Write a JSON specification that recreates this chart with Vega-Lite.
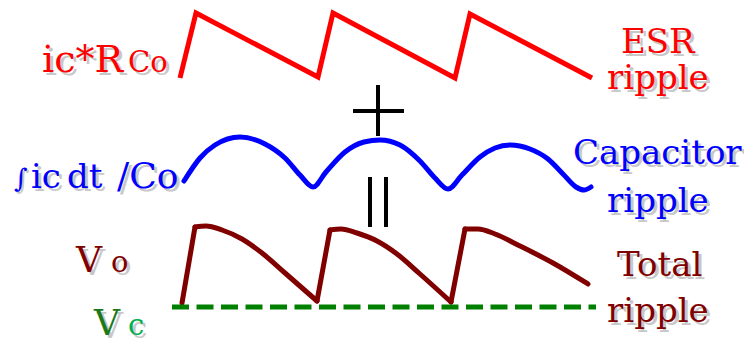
{
  "$schema": "https://vega.github.io/schema/vega-lite/v6.json",
  "width": 744,
  "height": 341,
  "autosize": {"type": "none"},
  "padding": 0,
  "background": "white",
  "config": {"view": {"stroke": null}, "font": "DejaVu Serif"},
  "datasets": {
    "waves": [
      {"series": "esr", "seg": "e", "t": 180, "v": 78}, {"series": "esr", "seg": "e", "t": 196, "v": 13}, {"series": "esr", "seg": "e", "t": 318, "v": 77},
      {"series": "esr", "seg": "e", "t": 333, "v": 13}, {"series": "esr", "seg": "e", "t": 455, "v": 78}, {"series": "esr", "seg": "e", "t": 470, "v": 14},
      {"series": "esr", "seg": "e", "t": 592, "v": 78},

      {"series": "cap", "seg": "c", "t": 184, "v": 181}, {"series": "cap", "seg": "c", "t": 200, "v": 158}, {"series": "cap", "seg": "c", "t": 215, "v": 145},
      {"series": "cap", "seg": "c", "t": 240, "v": 137}, {"series": "cap", "seg": "c", "t": 265, "v": 144}, {"series": "cap", "seg": "c", "t": 285, "v": 158},
      {"series": "cap", "seg": "c", "t": 300, "v": 175}, {"series": "cap", "seg": "c", "t": 313, "v": 187}, {"series": "cap", "seg": "c", "t": 326, "v": 172},
      {"series": "cap", "seg": "c", "t": 345, "v": 152}, {"series": "cap", "seg": "c", "t": 364, "v": 142}, {"series": "cap", "seg": "c", "t": 380, "v": 140},
      {"series": "cap", "seg": "c", "t": 400, "v": 145}, {"series": "cap", "seg": "c", "t": 420, "v": 161}, {"series": "cap", "seg": "c", "t": 435, "v": 178},
      {"series": "cap", "seg": "c", "t": 448, "v": 189}, {"series": "cap", "seg": "c", "t": 462, "v": 175}, {"series": "cap", "seg": "c", "t": 480, "v": 157},
      {"series": "cap", "seg": "c", "t": 495, "v": 148}, {"series": "cap", "seg": "c", "t": 510, "v": 145}, {"series": "cap", "seg": "c", "t": 530, "v": 149},
      {"series": "cap", "seg": "c", "t": 548, "v": 159}, {"series": "cap", "seg": "c", "t": 563, "v": 174}, {"series": "cap", "seg": "c", "t": 576, "v": 187},
      {"series": "cap", "seg": "c", "t": 584, "v": 190}, {"series": "cap", "seg": "c", "t": 591, "v": 187},

      {"series": "total", "seg": "rise1", "t": 182, "v": 303}, {"series": "total", "seg": "rise1", "t": 195, "v": 227},
      {"series": "total", "seg": "fall1", "t": 195, "v": 227}, {"series": "total", "seg": "fall1", "t": 206, "v": 226},
      {"series": "total", "seg": "fall1", "t": 222, "v": 230}, {"series": "total", "seg": "fall1", "t": 242, "v": 239},
      {"series": "total", "seg": "fall1", "t": 262, "v": 253}, {"series": "total", "seg": "fall1", "t": 285, "v": 273},
      {"series": "total", "seg": "fall1", "t": 317, "v": 301},
      {"series": "total", "seg": "rise2", "t": 317, "v": 301}, {"series": "total", "seg": "rise2", "t": 330, "v": 230},
      {"series": "total", "seg": "fall2", "t": 330, "v": 230}, {"series": "total", "seg": "fall2", "t": 341, "v": 229},
      {"series": "total", "seg": "fall2", "t": 357, "v": 233}, {"series": "total", "seg": "fall2", "t": 377, "v": 241},
      {"series": "total", "seg": "fall2", "t": 397, "v": 254}, {"series": "total", "seg": "fall2", "t": 420, "v": 274},
      {"series": "total", "seg": "fall2", "t": 451, "v": 302},
      {"series": "total", "seg": "rise3", "t": 451, "v": 302}, {"series": "total", "seg": "rise3", "t": 465, "v": 229},
      {"series": "total", "seg": "fall3", "t": 465, "v": 229}, {"series": "total", "seg": "fall3", "t": 478, "v": 229},
      {"series": "total", "seg": "fall3", "t": 495, "v": 234}, {"series": "total", "seg": "fall3", "t": 520, "v": 246},
      {"series": "total", "seg": "fall3", "t": 553, "v": 263}, {"series": "total", "seg": "fall3", "t": 588, "v": 284}
    ],
    "reference": [
      {"series": "vc", "t": 172, "v": 307, "t2": 596, "v2": 307}
    ],
    "operators": [
      {"sign": "plus", "t": 378, "v": 85, "t2": 378, "v2": 136},
      {"sign": "plus", "t": 353, "v": 111, "t2": 404, "v2": 111},
      {"sign": "equals", "t": 370, "v": 177, "t2": 370, "v2": 227},
      {"sign": "equals", "t": 386, "v": 177, "t2": 386, "v2": 227}
    ],
    "labels": [
      {"group": "left", "series": "esr", "label": "ic*R", "t": 42, "v": 72},
      {"group": "sub", "series": "esr", "label": "Co", "t": 128, "v": 72},
      {"group": "side", "series": "esr", "label": "ESR", "t": 621, "v": 53},
      {"group": "side", "series": "esr", "label": "ripple", "t": 607, "v": 89},
      {"group": "integral", "series": "cap", "label": "∫", "t": 14, "v": 187},
      {"group": "side", "series": "cap", "label": "ic", "t": 31, "v": 188},
      {"group": "side", "series": "cap", "label": "dt", "t": 67, "v": 188},
      {"group": "cap", "series": "cap", "label": "/Co", "t": 117, "v": 188},
      {"group": "side", "series": "cap", "label": "Capacitor", "t": 573, "v": 164},
      {"group": "side", "series": "cap", "label": "ripple", "t": 607, "v": 212},
      {"group": "cap", "series": "total", "label": "V", "t": 76, "v": 272},
      {"group": "sub", "series": "total", "label": "o", "t": 111, "v": 272},
      {"group": "side", "series": "total", "label": "Total", "t": 617, "v": 276},
      {"group": "side", "series": "total", "label": "ripple", "t": 607, "v": 322},
      {"group": "cap", "series": "vc", "label": "V", "t": 94, "v": 335},
      {"group": "sub", "series": "vcsub", "label": "c", "t": 128, "v": 335}
    ]
  },
  "encoding": {
    "x": {"field": "t", "type": "quantitative", "axis": null, "scale": {"domain": [0, 744], "nice": false, "zero": false}},
    "y": {"field": "v", "type": "quantitative", "axis": null, "scale": {"domain": [0, 341], "nice": false, "zero": false, "reverse": true}}
  },
  "layer": [
    {
      "data": {"name": "waves"},
      "transform": [{"filter": "datum.series === 'esr'"}],
      "mark": {"type": "line", "strokeWidth": 5, "strokeJoin": "miter", "strokeCap": "butt"},
      "encoding": {
        "color": {"field": "series", "type": "nominal", "legend": null,
          "scale": {"domain": ["esr", "cap", "total", "vc", "vcsub"], "range": ["#ff0000", "#0000ff", "#800000", "#1a7a1a", "#00b050"]}}
      }
    },
    {
      "data": {"name": "waves"},
      "transform": [{"filter": "datum.series === 'cap'"}],
      "mark": {"type": "line", "strokeWidth": 5, "interpolate": "monotone", "strokeCap": "round"},
      "encoding": {"color": {"field": "series", "type": "nominal", "legend": null}}
    },
    {
      "data": {"name": "waves"},
      "transform": [{"filter": "datum.series === 'total'"}],
      "mark": {"type": "line", "strokeWidth": 5, "interpolate": "monotone", "strokeCap": "round", "strokeJoin": "round"},
      "encoding": {"detail": {"field": "seg"}, "color": {"field": "series", "type": "nominal", "legend": null}}
    },
    {
      "data": {"name": "reference"},
      "mark": {"type": "rule", "strokeWidth": 5, "strokeDash": [17, 7.5], "color": "#008000"},
      "encoding": {"x2": {"field": "t2"}, "y2": {"field": "v2"}}
    },
    {
      "data": {"name": "operators"},
      "mark": {"type": "rule", "strokeWidth": 4, "color": "#000000"},
      "encoding": {"x2": {"field": "t2"}, "y2": {"field": "v2"}}
    },
    {
      "data": {"name": "labels"},
      "transform": [{"filter": "datum.group === 'side'"}],
      "mark": {"type": "text", "font": "DejaVu Serif", "align": "left", "baseline": "alphabetic", "fontSize": 34, "dx": 3, "dy": 3, "color": "#c8c8c8"},
      "encoding": {"text": {"field": "label"}}
    },
    {
      "data": {"name": "labels"},
      "transform": [{"filter": "datum.group === 'left'"}],
      "mark": {"type": "text", "font": "DejaVu Serif", "align": "left", "baseline": "alphabetic", "fontSize": 38, "dx": 3, "dy": 3, "color": "#c8c8c8"},
      "encoding": {"text": {"field": "label"}}
    },
    {
      "data": {"name": "labels"},
      "transform": [{"filter": "datum.group === 'cap'"}],
      "mark": {"type": "text", "font": "DejaVu Serif", "align": "left", "baseline": "alphabetic", "fontSize": 36, "dx": 3, "dy": 3, "color": "#c8c8c8"},
      "encoding": {"text": {"field": "label"}}
    },
    {
      "data": {"name": "labels"},
      "transform": [{"filter": "datum.group === 'sub'"}],
      "mark": {"type": "text", "font": "DejaVu Serif", "align": "left", "baseline": "alphabetic", "fontSize": 29, "dx": 3, "dy": 3, "color": "#c8c8c8"},
      "encoding": {"text": {"field": "label"}}
    },
    {
      "data": {"name": "labels"},
      "transform": [{"filter": "datum.group === 'integral'"}],
      "mark": {"type": "text", "font": "DejaVu Serif", "align": "left", "baseline": "alphabetic", "fontSize": 26, "dx": 2, "dy": 2, "color": "#c8c8c8"},
      "encoding": {"text": {"field": "label"}}
    },
    {
      "data": {"name": "labels"},
      "transform": [{"filter": "datum.group === 'side'"}],
      "mark": {"type": "text", "font": "DejaVu Serif", "align": "left", "baseline": "alphabetic", "fontSize": 34},
      "encoding": {"text": {"field": "label"}, "color": {"field": "series", "type": "nominal", "legend": null}}
    },
    {
      "data": {"name": "labels"},
      "transform": [{"filter": "datum.group === 'left'"}],
      "mark": {"type": "text", "font": "DejaVu Serif", "align": "left", "baseline": "alphabetic", "fontSize": 38},
      "encoding": {"text": {"field": "label"}, "color": {"field": "series", "type": "nominal", "legend": null}}
    },
    {
      "data": {"name": "labels"},
      "transform": [{"filter": "datum.group === 'cap'"}],
      "mark": {"type": "text", "font": "DejaVu Serif", "align": "left", "baseline": "alphabetic", "fontSize": 36},
      "encoding": {"text": {"field": "label"}, "color": {"field": "series", "type": "nominal", "legend": null}}
    },
    {
      "data": {"name": "labels"},
      "transform": [{"filter": "datum.group === 'sub'"}],
      "mark": {"type": "text", "font": "DejaVu Serif", "align": "left", "baseline": "alphabetic", "fontSize": 29},
      "encoding": {"text": {"field": "label"}, "color": {"field": "series", "type": "nominal", "legend": null}}
    },
    {
      "data": {"name": "labels"},
      "transform": [{"filter": "datum.group === 'integral'"}],
      "mark": {"type": "text", "font": "DejaVu Serif", "align": "left", "baseline": "alphabetic", "fontSize": 26},
      "encoding": {"text": {"field": "label"}, "color": {"field": "series", "type": "nominal", "legend": null}}
    }
  ]
}
